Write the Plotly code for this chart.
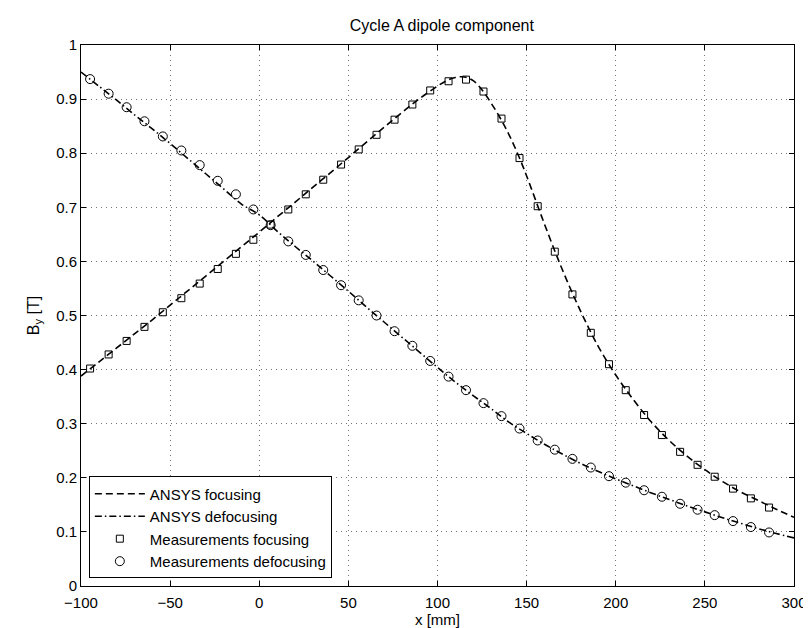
import plotly.graph_objects as go

# ---- Data ----
# Measurement positions (mm)
meas_x = [-94.9, -84.5, -74.4, -64.4, -54.1, -43.7, -33.4, -23.3, -13.1, -3.3,
          6.4, 16.3, 26.1, 35.9, 45.9, 55.8, 65.8, 75.9, 85.9, 95.9,
          106.2, 116.0, 125.8, 135.9, 146.0, 156.2, 165.8, 175.7, 186.0, 196.2,
          205.6, 215.9, 225.9, 236.1, 245.9, 255.5, 265.8, 275.8, 286.0]

meas_focusing = [0.402, 0.428, 0.453, 0.479, 0.506, 0.532, 0.559, 0.586, 0.614, 0.640,
                 0.668, 0.696, 0.724, 0.751, 0.779, 0.807, 0.834, 0.862, 0.890, 0.916,
                 0.933, 0.936, 0.914, 0.864, 0.791, 0.702, 0.618, 0.539, 0.468, 0.410,
                 0.362, 0.316, 0.279, 0.248, 0.224, 0.202, 0.180, 0.162, 0.145]

meas_defocusing = [0.937, 0.910, 0.885, 0.859, 0.831, 0.805, 0.778, 0.749, 0.724, 0.696,
                   0.667, 0.637, 0.612, 0.584, 0.556, 0.528, 0.500, 0.471, 0.444, 0.416,
                   0.387, 0.362, 0.338, 0.314, 0.291, 0.269, 0.252, 0.235, 0.219, 0.203,
                   0.191, 0.177, 0.165, 0.152, 0.141, 0.131, 0.120, 0.109, 0.099]

# ANSYS simulation curves
ansys_f_x = [-100, -90, -80, -70, -60, -50, -40, -30, -20, -10, 0, 10, 20, 30, 40, 50,
             60, 70, 80, 90, 100, 105, 110, 115, 120, 125, 130, 135, 140, 145, 150,
             160, 170, 180, 190, 200, 210, 220, 230, 240, 250, 260, 270, 280, 290, 300]
ansys_f_y = [0.388, 0.414, 0.440, 0.466, 0.492, 0.519, 0.546, 0.573, 0.600, 0.627, 0.654,
             0.682, 0.709, 0.737, 0.764, 0.792, 0.820, 0.848, 0.875, 0.901, 0.924, 0.934,
             0.940, 0.941, 0.934, 0.917, 0.893, 0.866, 0.835, 0.799, 0.758, 0.669, 0.585,
             0.510, 0.444, 0.390, 0.344, 0.303, 0.269, 0.240, 0.215, 0.193, 0.174, 0.158,
             0.142, 0.127]

ansys_d_x = [-100, -90, -80, -70, -60, -50, -40, -30, -20, -10, 0, 10, 20, 30, 40, 50,
             60, 70, 80, 90, 100, 110, 120, 130, 140, 150, 160, 170, 180, 190, 200,
             210, 220, 230, 240, 250, 260, 270, 280, 290, 300]
ansys_d_y = [0.950, 0.924, 0.898, 0.871, 0.845, 0.818, 0.790, 0.762, 0.734, 0.706, 0.686,
             0.656, 0.628, 0.601, 0.573, 0.545, 0.516, 0.488, 0.460, 0.432, 0.404, 0.377,
             0.352, 0.328, 0.303, 0.282, 0.262, 0.244, 0.227, 0.212, 0.198, 0.185, 0.172,
             0.160, 0.148, 0.137, 0.126, 0.116, 0.106, 0.097, 0.089]

x_ticks = [-100, -50, 0, 50, 100, 150, 200, 250, 300]
y_ticks = [0, 0.1, 0.2, 0.3, 0.4, 0.5, 0.6, 0.7, 0.8, 0.9, 1]
y_tick_labels = ["0", "0.1", "0.2", "0.3", "0.4", "0.5", "0.6", "0.7", "0.8", "0.9", "1"]

FONT = "Liberation Sans, Arial, Helvetica, sans-serif"
FS = 15

fig = go.Figure()
fig.add_trace(go.Scatter(x=ansys_f_x, y=ansys_f_y, mode="lines", name="ANSYS focusing",
                         line=dict(color="black", width=1.6, dash="7px,4px", shape="spline")))
fig.add_trace(go.Scatter(x=ansys_d_x, y=ansys_d_y, mode="lines", name="ANSYS defocusing",
                         line=dict(color="black", width=1.6, dash="7px,3px,1.5px,3px", shape="spline")))
fig.add_trace(go.Scatter(x=meas_x, y=meas_focusing, mode="markers", name="Measurements focusing",
                         marker=dict(symbol="square-open", size=7, color="black",
                                     line=dict(width=1, color="black"))))
fig.add_trace(go.Scatter(x=meas_x, y=meas_defocusing, mode="markers", name="Measurements defocusing",
                         marker=dict(symbol="circle-open", size=9, color="black",
                                     line=dict(width=1, color="black"))))

axis_common = dict(
    showline=True, linecolor="black", linewidth=1, mirror="ticks",
    ticks="inside", ticklen=5, tickcolor="black", tickwidth=1,
    showgrid=True, gridcolor="rgba(0,0,0,0.55)", gridwidth=1, griddash="1px,4px",
    zeroline=False, tickfont=dict(family=FONT, size=FS, color="black"),
)

fig.update_xaxes(range=[-100, 300], tickvals=x_ticks, ticklabelstandoff=3,
                 title=dict(text="x [mm]", font=dict(family=FONT, size=FS, color="black"), standoff=2),
                 **axis_common)
fig.update_yaxes(range=[0, 1], tickvals=y_ticks, ticktext=y_tick_labels,
                 title=dict(text="B<sub>y</sub> [T]", font=dict(family=FONT, size=FS + 1, color="black"), standoff=12),
                 **axis_common)

fig.update_layout(
    width=811, height=628,
    margin=dict(l=73, r=15, t=37, b=50),
    paper_bgcolor="white", plot_bgcolor="white",
    font=dict(family=FONT, size=FS, color="black"),
    title=dict(text="Cycle A dipole component", x=0.535, xanchor="center",
               y=0.972, yanchor="middle", font=dict(family=FONT, size=16, color="black")),
    showlegend=True,
    legend=dict(x=0.011, y=0.014, xanchor="left", yanchor="bottom",
                bgcolor="white", bordercolor="black", borderwidth=1,
                font=dict(family=FONT, size=FS, color="black"),
                tracegroupgap=0, itemwidth=50),
)

fig.write_html("out.html")
